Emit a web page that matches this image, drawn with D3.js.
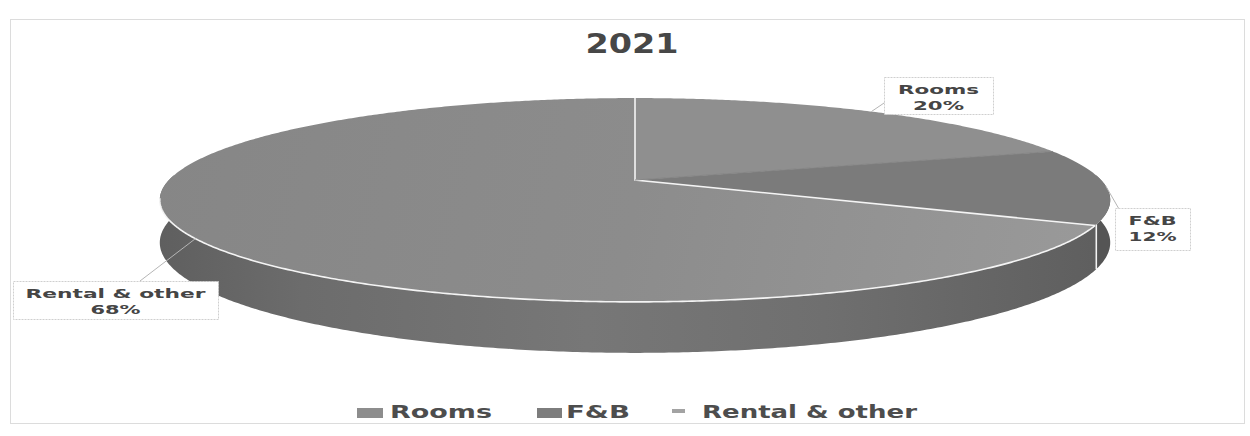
<!DOCTYPE html>
<html>
<head>
<meta charset="utf-8">
<script src="https://cdn.jsdelivr.net/npm/d3@7"></script>
<style>
  html, body { margin: 0; padding: 0; background: #fff; }
  svg { display: block; }
  text { font-family: "DejaVu Sans", Verdana, sans-serif; font-weight: bold; }
</style>
</head>
<body>
<svg id="chart" width="1250" height="436"></svg>
<script>
// ---- data ----
const title = "2021";
const categories = ["Rooms", "F&B", "Rental & other"];
const values = [20, 12, 68];
const topColors = ["#8f8f8f", "#7b7b7b", "#8b8b8b"];
const sideColors = ["#6a6a6a", "#555555", "url(#sideGrad)"];
const legendColors = ["#8d8d8d", "#7d7d7d", "#a3a3a3"];

// ---- layout ----
const W = 1250, H = 436;
const cx = 635, cy = 180;     // apex of the pie on the top face
const R = 466;                // horizontal radius
const B = 98;                 // vertical radius factor
const A = 0.196;              // perspective strength
const T = 41;                 // thickness

const svg = d3.select("#chart");

function proj(theta, depth) {
  const u = Math.sin(theta), v = -Math.cos(theta);
  const d = 1 - A * v;
  return [cx + R * u / d, cy + B * v / d + (depth || 0) * T / d];
}
function arcPts(a0, a1, depth) {
  const n = Math.max(2, Math.ceil(Math.abs(a1 - a0) * 120));
  return d3.range(n + 1).map(i => proj(a0 + (a1 - a0) * i / n, depth));
}

const pie = d3.pie().sort(null).startAngle(0).endAngle(2 * Math.PI);
const arcs = pie(values);
const line = d3.line();

// defs
const defs = svg.append("defs");
const xl = proj(-Math.PI / 2 - 0.2)[0], xr = proj(Math.PI / 2 + 0.2)[0];
const sg = defs.append("linearGradient").attr("id", "sideGrad")
  .attr("gradientUnits", "userSpaceOnUse").attr("x1", xl).attr("x2", xr).attr("y1", 0).attr("y2", 0);
[[0, "#5f5f5f"], [0.15, "#6c6c6c"], [0.45, "#777777"], [0.7, "#6f6f6f"], [1, "#5e5e5e"]]
  .forEach(([o, c]) => sg.append("stop").attr("offset", o).attr("stop-color", c));
const tg = defs.append("linearGradient").attr("id", "topGrad")
  .attr("gradientUnits", "userSpaceOnUse").attr("x1", xl).attr("y1", 100).attr("x2", xr).attr("y2", 300);
[[0, "#868686"], [0.5, "#8c8c8c"], [1, "#9a9a9a"]]
  .forEach(([o, c]) => tg.append("stop").attr("offset", o).attr("stop-color", c));

// frame
svg.append("rect").attr("x", 10.5).attr("y", 19.5).attr("width", 1234).attr("height", 404)
  .attr("fill", "none").attr("stroke", "#dcdcdc").attr("stroke-width", 1);

// title
svg.append("text").attr("x", 632).attr("y", 53).attr("text-anchor", "middle")
  .attr("font-size", 26).attr("fill", "#474747")
  .attr("textLength", 93).attr("lengthAdjust", "spacingAndGlyphs").text(title);

// sides (front half only)
const frontLo = Math.PI / 2 - 0.05, frontHi = 3 * Math.PI / 2 + 0.05;
const sideG = svg.append("g");
arcs.forEach((a, i) => {
  const s = Math.max(a.startAngle, frontLo), e = Math.min(a.endAngle, frontHi);
  if (e <= s) return;
  const pts = arcPts(s, e, 0).concat(arcPts(e, s, 1));
  sideG.append("path").attr("d", line(pts) + "Z").attr("fill", sideColors[i]);
});

// top faces
const topG = svg.append("g");
arcs.forEach((a, i) => {
  const pts = [[cx, cy]].concat(arcPts(a.startAngle, a.endAngle, 0));
  topG.append("path").attr("d", line(pts) + "Z")
    .attr("fill", i === 2 ? "url(#topGrad)" : topColors[i]);
});

// edges
const fbEnd = arcs[1].endAngle;
const edgeG = svg.append("g").attr("fill", "none").attr("stroke", "#f4f4f4").attr("stroke-width", 1.6);
// Rooms / F&B boundary (faint)
svg.append("path").attr("d", line([[cx, cy], proj(arcs[0].endAngle, 0)]))
  .attr("stroke", "#858585").attr("stroke-width", 1).attr("fill", "none");
// white radial lines
edgeG.append("path").attr("d", line([proj(0, 0), [cx, cy], proj(fbEnd, 0)]));
// white front edge of Rental slice
edgeG.append("path").attr("d", line(arcPts(fbEnd, 3 * Math.PI / 2 - 0.18, 0)));
// white seam on the side
edgeG.append("path").attr("d", line([proj(fbEnd - 0.01, 0), proj(fbEnd - 0.01, 1)]));

// data labels
const labelBoxes = [
  { x: 884, y: 77, w: 109, h: 37, lx: 887, ly: 101 },
  { x: 1115, y: 208, w: 75, h: 42, lx: 1119, ly: 209 },
  { x: 13, y: 281, w: 205, h: 38, lx: 140, ly: 281 }
];
const textLens = [[81, 51], [48, 48], [180, 50]];
const labG = svg.append("g");
arcs.forEach((a, i) => {
  const b = labelBoxes[i];
  const mid = (a.startAngle + a.endAngle) / 2;
  const p = proj(mid, 0);
  labG.append("line").attr("x1", p[0]).attr("y1", p[1]).attr("x2", b.lx).attr("y2", b.ly)
    .attr("stroke", "#b5b5b5").attr("stroke-width", 1);
  labG.append("rect").attr("x", b.x + 0.5).attr("y", b.y + 0.5).attr("width", b.w).attr("height", b.h)
    .attr("fill", "#fff").attr("stroke", "#cfcfcf").attr("stroke-dasharray", "2,1");
  const tx = b.x + b.w / 2;
  labG.append("text").attr("x", tx).attr("y", b.y + 17).attr("text-anchor", "middle")
    .attr("font-size", 13).attr("fill", "#454545")
    .attr("textLength", textLens[i][0]).attr("lengthAdjust", "spacingAndGlyphs").text(categories[i]);
  labG.append("text").attr("x", tx).attr("y", b.y + 33).attr("text-anchor", "middle")
    .attr("font-size", 13).attr("fill", "#454545")
    .attr("textLength", textLens[i][1]).attr("lengthAdjust", "spacingAndGlyphs")
    .text(Math.round(a.data) + "%");
});

// legend
const legendItems = [
  { sx: 357, sw: 26, sy: 408, sh: 10, tx: 390, tl: 102 },
  { sx: 537, sw: 25, sy: 408, sh: 10, tx: 566, tl: 64 },
  { sx: 672, sw: 13, sy: 409, sh: 4, tx: 702, tl: 215 }
];
const legG = svg.append("g");
categories.forEach((c, i) => {
  const L = legendItems[i];
  legG.append("rect").attr("x", L.sx).attr("y", L.sy).attr("width", L.sw).attr("height", L.sh)
    .attr("fill", legendColors[i]);
  legG.append("text").attr("x", L.tx).attr("y", 418).attr("font-size", 17).attr("fill", "#4d4d4d")
    .attr("textLength", L.tl).attr("lengthAdjust", "spacingAndGlyphs").text(c);
});
</script>
</body>
</html>
